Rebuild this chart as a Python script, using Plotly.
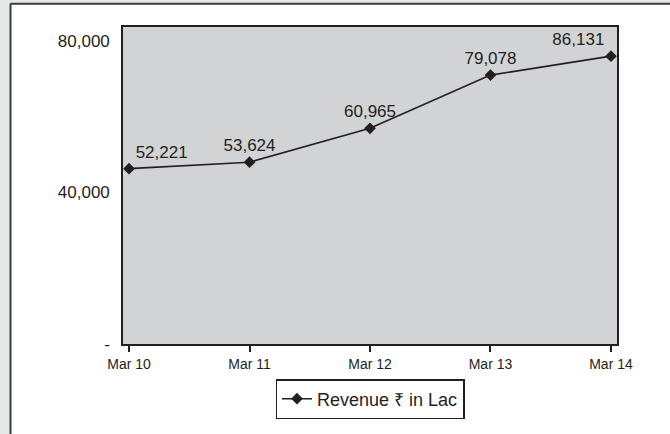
import plotly.graph_objects as go

# Data
categories = ["Mar 10", "Mar 11", "Mar 12", "Mar 13", "Mar 14"]
plotted_values = [46300, 48000, 56950, 71000, 76000]
value_labels = ["52,221", "53,624", "60,965", "79,078", "86,131"]
series_name = "Revenue \u20b9 in Lac"
y_tickvals = [0, 40000, 80000]
y_ticktext = ["-", "40,000", "80,000"]

W, H = 670, 434
ML, MR, MT, MB = 123, 53, 27, 90
PW, PH = W - ML - MR, H - MT - MB

def px_x(p):
    return (p - ML) / PW

def px_y(p):
    return (H - MB - p) / PH

INK = "#231f20"
FONT = "Liberation Sans, Arial, sans-serif"

fig = go.Figure()
fig.add_trace(go.Scatter(
    x=categories,
    y=plotted_values,
    mode="lines+markers+text",
    name=series_name,
    text=value_labels,
    textposition=["top right", "top center", "top center", "top center", "top left"],
    textfont=dict(size=17, color=INK, family=FONT),
    line=dict(color=INK, width=1.6),
    marker=dict(symbol="diamond", size=9, color=INK),
    cliponaxis=False,
))

shapes = [
    # outer light-gray margin strips
    dict(type="rect", xref="paper", yref="paper", x0=px_x(-5), x1=px_x(9.5),
         y0=px_y(H + 20), y1=px_y(-5), fillcolor="#e6e7e9", line=dict(width=0), layer="above"),
    dict(type="rect", xref="paper", yref="paper", x0=px_x(-5), x1=px_x(W + 20),
         y0=px_y(2.8), y1=px_y(-5), fillcolor="#e6e7e9", line=dict(width=0), layer="above"),
    # outer frame lines
    dict(type="line", xref="paper", yref="paper", x0=px_x(10.5), x1=px_x(10.5),
         y0=px_y(H + 20), y1=px_y(3.5), line=dict(color="#3a3a3c", width=2), layer="above"),
    dict(type="line", xref="paper", yref="paper", x0=px_x(10.5), x1=px_x(W + 20),
         y0=px_y(3.8), y1=px_y(3.8), line=dict(color="#3a3a3c", width=2), layer="above"),
]

fig.update_layout(
    width=W, height=H,
    margin=dict(l=ML, r=MR, t=MT, b=MB, pad=0),
    paper_bgcolor="white",
    plot_bgcolor="#d1d3d4",
    font=dict(family=FONT, color=INK),
    showlegend=True,
    legend=dict(
        x=0.5, xanchor="center", y=px_y(379), yanchor="top",
        bgcolor="white", bordercolor=INK, borderwidth=1.5,
        font=dict(size=18, color=INK, family=FONT),
        orientation="h",
    ),
    shapes=shapes,
)

fig.update_xaxes(
    type="category",
    range=[-0.05, 4.05],
    showgrid=False, zeroline=False,
    showline=True, linecolor=INK, linewidth=2, mirror=True,
    ticks="outside", ticklen=6, tickwidth=1.5, tickcolor=INK,
    tickfont=dict(size=14, color=INK, family=FONT),
)
fig.update_yaxes(
    range=[0, 83700],
    tickvals=y_tickvals, ticktext=y_ticktext,
    showgrid=False, zeroline=False,
    showline=True, linecolor=INK, linewidth=1.6, mirror=True,
    ticks="", ticklabelstandoff=8,
    tickfont=dict(size=17, color=INK, family=FONT),
)

fig.write_html(
    "out.html",
    config={"displayModeBar": False},
    post_script="document.body.style.margin='0';document.body.style.padding='0';",
)
